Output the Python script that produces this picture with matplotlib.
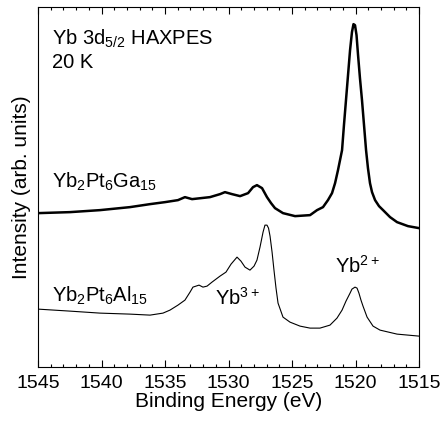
#!/usr/bin/env python

import matplotlib
matplotlib.use('Agg')
import matplotlib.pyplot as plt
from matplotlib.ticker import MultipleLocator

plt.rcParams['font.family'] = ['Liberation Sans', 'DejaVu Sans']
plt.rcParams['mathtext.default'] = 'regular'

# Yb2Pt6Ga15 spectrum (binding energy eV, intensity arb.)
ga_energy = [1545.00, 1542.48, 1540.12, 1537.76, 1536.18, 1535.00, 1533.98, 1533.43,
             1532.87, 1531.46, 1530.67, 1530.28, 1529.72, 1529.09, 1528.46, 1528.07,
             1527.76, 1527.36, 1526.97, 1526.65, 1526.34, 1525.71, 1524.76, 1523.58,
             1523.03, 1522.56, 1522.17, 1521.85, 1521.61, 1521.38, 1521.22, 1521.06,
             1520.91, 1520.75, 1520.59, 1520.43, 1520.28, 1520.16, 1520.04, 1519.92,
             1519.80, 1519.65, 1519.49, 1519.33, 1519.17, 1519.02, 1518.86, 1518.70,
             1518.46, 1518.15, 1517.83, 1517.28, 1516.73, 1515.87, 1515.00]
ga_intensity = [154, 155, 157, 160, 163, 165, 167, 170,
                168, 170, 173, 175, 173, 171, 174, 180,
                182, 179, 170, 164, 159, 154, 151, 152,
                157, 160, 167, 174, 184, 197, 207, 217,
                242, 267, 292, 317, 335, 343, 342, 332,
                312, 289, 267, 242, 217, 199, 184, 175,
                167, 161, 157, 150, 145, 141, 139]

# Yb2Pt6Al15 spectrum
al_energy = [1545.00, 1542.48, 1540.12, 1537.76, 1536.18, 1535.16, 1534.61, 1533.98,
             1533.43, 1533.03, 1532.80, 1532.32, 1532.01, 1531.69, 1531.30, 1530.67,
             1530.20, 1529.80, 1529.33, 1529.02, 1528.70, 1528.31, 1527.99, 1527.76,
             1527.52, 1527.28, 1527.13, 1526.97, 1526.85, 1526.73, 1526.57, 1526.42,
             1526.26, 1526.10, 1525.71, 1525.16, 1524.37, 1523.58, 1522.80, 1522.01,
             1521.46, 1521.06, 1520.75, 1520.43, 1520.28, 1520.04, 1519.88, 1519.73,
             1519.57, 1519.41, 1519.09, 1518.62, 1518.07, 1516.73, 1515.00]
al_intensity = [58, 56, 54, 53, 52, 54, 57, 62,
                67, 75, 80, 82, 80, 81, 85, 91,
                95, 103, 110, 106, 100, 97, 101, 107,
                120, 135, 142, 142, 139, 131, 115, 97,
                79, 64, 50, 45, 41, 39, 39, 42,
                49, 57, 66, 74, 78, 80, 79, 74,
                67, 61, 50, 41, 37, 33, 31]

fig = plt.figure(figsize=(4.46, 4.21), dpi=100)
ax = fig.add_axes([0.0852, 0.128, 0.8543, 0.855])

ax.plot(ga_energy, ga_intensity, color='black', lw=1.8)
ax.plot(al_energy, al_intensity, color='black', lw=0.8)

ax.set_xlim(1545, 1515)
ax.set_ylim(0, 360)

ax.xaxis.set_major_locator(MultipleLocator(5))
ax.xaxis.set_minor_locator(MultipleLocator(1))
ax.tick_params(axis='x', which='both', direction='in', top=True, bottom=True,
               labelsize=14, pad=6)
ax.tick_params(axis='x', which='major', length=5, width=0.8)
ax.tick_params(axis='x', which='minor', length=2.5, width=0.8)
ax.set_yticks([])

ax.set_xlabel('Binding Energy (eV)', fontsize=15, labelpad=0)
ax.set_ylabel('Intensity (arb. units)', fontsize=15, labelpad=5)

ax.text(1543.9, 322, r'Yb 3d$_{5/2}$ HAXPES', fontsize=14.5, va='baseline')
ax.text(1543.9, 299, '20 K', fontsize=14.5, va='baseline')
ax.text(1543.9, 179, r'Yb$_2$Pt$_6$Ga$_{15}$', fontsize=14.5, va='baseline')
ax.text(1543.9, 65, r'Yb$_2$Pt$_6$Al$_{15}$', fontsize=14.5, va='baseline')
ax.text(1531.06, 62, r'Yb$^{3+}$', fontsize=14.5, va='baseline')
ax.text(1521.61, 94, r'Yb$^{2+}$', fontsize=14.5, va='baseline')

fig.savefig('out.png', dpi=100)
